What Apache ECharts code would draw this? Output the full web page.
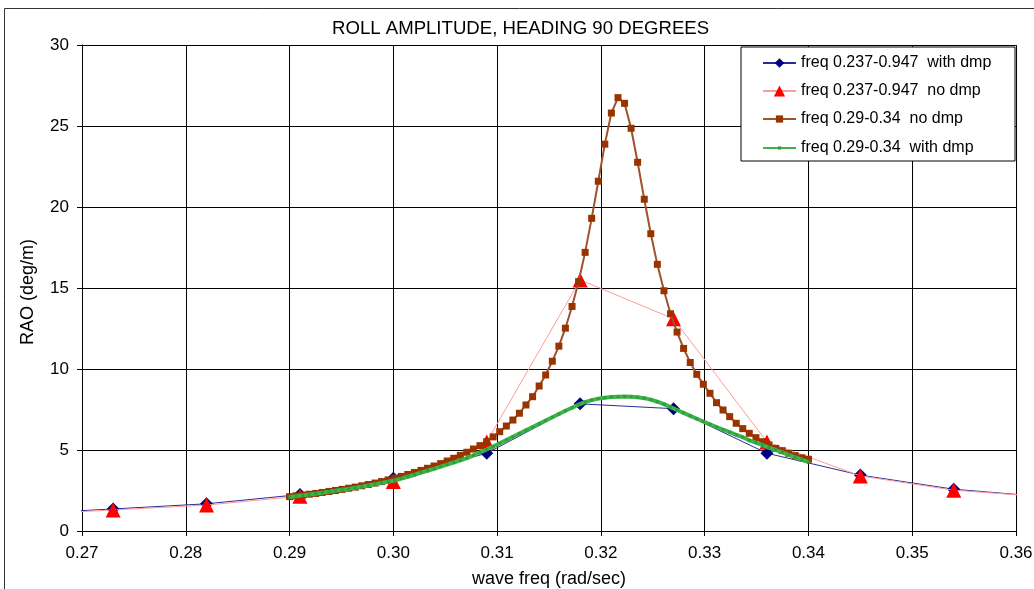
<!DOCTYPE html>
<html>
<head>
<meta charset="utf-8">
<script src="https://cdn.jsdelivr.net/npm/echarts@6/dist/echarts.min.js"></script>
<style>
html,body{margin:0;padding:0;background:#fff;}
#chart{width:1034px;height:589px;}
</style>
</head>
<body>
<div id="chart"></div>
<script>
// coarse frequency grid (0.237-0.947 runs), points just outside the view let the lines reach the edges
var coarseFreq = [0.264, 0.273, 0.282, 0.291, 0.300, 0.309, 0.318, 0.327, 0.336, 0.345, 0.354, 0.363];
var withDmpCoarse = [1.05, 1.36, 1.68, 2.25, 3.25, 4.80, 7.85, 7.55, 4.80, 3.45, 2.58, 2.10];
var noDmpCoarse   = [1.00, 1.30, 1.60, 2.15, 3.05, 5.50, 15.50, 13.10, 5.50, 3.40, 2.52, 2.10];

// fine frequency grid (0.29-0.34 runs)
var fineFreq = [
 0.29000,0.29063,0.29127,0.29190,0.29253,0.29316,0.29380,0.29443,0.29506,0.29570,
 0.29633,0.29696,0.29759,0.29823,0.29886,0.29949,0.30013,0.30076,0.30139,0.30203,
 0.30266,0.30329,0.30392,0.30456,0.30519,0.30582,0.30646,0.30709,0.30772,0.30835,
 0.30899,0.30962,0.31025,0.31089,0.31152,0.31215,0.31278,0.31342,0.31405,0.31468,
 0.31532,0.31595,0.31658,0.31722,0.31785,0.31848,0.31911,0.31975,0.32038,0.32101,
 0.32165,0.32228,0.32291,0.32354,0.32418,0.32481,0.32544,0.32608,0.32671,0.32734,
 0.32797,0.32861,0.32924,0.32987,0.33051,0.33114,0.33177,0.33241,0.33304,0.33367,
 0.33430,0.33494,0.33557,0.33620,0.33684,0.33747,0.33810,0.33873,0.33937,0.34000
];
var noDmpFine = [
 2.12,2.17,2.22,2.27,2.32,2.38,2.44,2.50,2.57,2.64,
 2.71,2.79,2.87,2.96,3.05,3.15,3.26,3.37,3.49,3.61,
 3.74,3.87,4.01,4.16,4.32,4.49,4.67,4.86,5.06,5.27,
 5.51,5.81,6.13,6.48,6.85,7.27,7.78,8.29,8.95,9.63,
 10.48,11.41,12.52,13.86,15.39,17.20,19.30,21.59,23.88,25.80,
 26.75,26.40,24.86,22.76,20.48,18.35,16.46,14.83,13.41,12.28,
 11.27,10.40,9.67,9.06,8.50,7.92,7.47,7.06,6.65,6.32,
 6.03,5.76,5.51,5.31,5.10,4.96,4.80,4.65,4.52,4.43
];
var withDmpFine = [
 2.10,2.15,2.20,2.25,2.30,2.36,2.42,2.48,2.54,2.60,
 2.67,2.74,2.81,2.88,2.96,3.04,3.12,3.23,3.35,3.47,
 3.60,3.72,3.84,3.97,4.10,4.23,4.36,4.50,4.67,4.85,
 5.03,5.22,5.42,5.62,5.82,6.02,6.22,6.42,6.62,6.82,
 7.02,7.22,7.42,7.61,7.80,7.96,8.08,8.17,8.23,8.27,
 8.29,8.30,8.29,8.26,8.20,8.11,7.98,7.83,7.65,7.47,
 7.29,7.11,6.93,6.76,6.59,6.42,6.26,6.10,5.94,5.79,
 5.60,5.45,5.30,5.15,5.00,4.85,4.70,4.55,4.40,4.25
];

var seriesNames = [
 'freq 0.237-0.947  with dmp',
 'freq 0.237-0.947  no dmp',
 'freq 0.29-0.34  no dmp',
 'freq 0.29-0.34  with dmp'
];
var titleText = 'ROLL AMPLITUDE, HEADING 90 DEGREES';
var xName = 'wave freq (rad/sec)';
var yName = 'RAO (deg/m)';

function pairs(xs, ys){ return xs.map(function(x,i){ return [x, ys[i]]; }); }

var FONT = "'Liberation Sans', Arial, sans-serif";

// one legend per row so each marker gets its own size
var legendRowCenters = [62, 90, 118, 147];
var legendIconHeights = [12, 14, 9, 4];
var legends = seriesNames.map(function(n, i){
  return {
    orient: 'vertical', left: 762, top: legendRowCenters[i] - 7, padding: 0,
    itemWidth: 33, itemHeight: legendIconHeights[i], z: 6,
    textStyle: {fontFamily: FONT, fontSize: 16, color: '#000', lineHeight: 16},
    data: [n]
  };
});

var chart = echarts.init(document.getElementById('chart'), null, {renderer:'canvas'});
chart.setOption({
  animation: false,
  backgroundColor: '#fff',
  title: {
    text: titleText, left: 332, top: 19, padding: 0,
    textStyle: {fontFamily: FONT, fontSize: 18.6, fontWeight: 'normal', color: '#000'}
  },
  grid: {left: 82, right: 18, top: 45, bottom: 58, containLabel: false, outerBoundsMode: 'none'},
  xAxis: {
    type: 'value', min: 0.27, max: 0.36, interval: 0.01,
    name: xName, nameLocation: 'middle', nameGap: 39,
    nameTextStyle: {fontFamily: FONT, fontSize: 18, color: '#000'},
    axisLine: {show: true, onZero: false, lineStyle: {color: '#000', width: 1}},
    axisTick: {show: true, length: 5, lineStyle: {color: '#000'}},
    axisLabel: {fontFamily: FONT, fontSize: 17, color: '#000', margin: 14,
      formatter: function(v){ return v.toFixed(2); }},
    splitLine: {show: true, lineStyle: {color: '#000', width: 1}}
  },
  yAxis: {
    type: 'value', min: 0, max: 30, interval: 5,
    name: yName, nameLocation: 'middle', nameGap: 45, nameRotate: 90,
    nameTextStyle: {fontFamily: FONT, fontSize: 18, color: '#000', padding: [0, 0, 0, -8]},
    axisLine: {show: true, lineStyle: {color: '#000', width: 1}},
    axisTick: {show: true, length: 5, lineStyle: {color: '#000'}},
    axisLabel: {fontFamily: FONT, fontSize: 17, color: '#000', margin: 13},
    splitLine: {show: true, lineStyle: {color: '#000', width: 1}}
  },
  legend: legends,
  graphic: [
    {type: 'rect', z: 5, shape: {x: 741, y: 47, width: 274, height: 114},
     style: {fill: '#fff', stroke: '#000', lineWidth: 1}},
    {type: 'rect', z: 100, silent: true, shape: {x: 4.5, y: 8.5, width: 1040, height: 600},
     style: {fill: 'none', stroke: '#333', lineWidth: 1}}
  ],
  series: [
    {name: seriesNames[0], type: 'line', z: 2, data: pairs(coarseFreq, withDmpCoarse),
     symbol: 'diamond', symbolSize: 13, showAllSymbol: true,
     itemStyle: {color: '#000080'}, lineStyle: {color: '#2a2a9a', width: 1}},
    {name: seriesNames[1], type: 'line', z: 3, data: pairs(coarseFreq, noDmpCoarse),
     symbol: 'triangle', symbolSize: 15, showAllSymbol: true,
     itemStyle: {color: '#ff0000'}, lineStyle: {color: '#ff9a9a', width: 1}},
    {name: seriesNames[2], type: 'line', z: 4, data: pairs(fineFreq, noDmpFine),
     symbol: 'rect', symbolSize: 7, showAllSymbol: true,
     itemStyle: {color: '#993300'}, lineStyle: {color: '#a0522d', width: 2}},
    {name: seriesNames[3], type: 'line', z: 4.5, data: pairs(fineFreq, withDmpFine),
     symbol: 'rect', symbolSize: 3, showAllSymbol: true,
     itemStyle: {color: '#2e9e3a'}, lineStyle: {color: '#3cb44a', width: 4}}
  ]
});
</script>
</body>
</html>
